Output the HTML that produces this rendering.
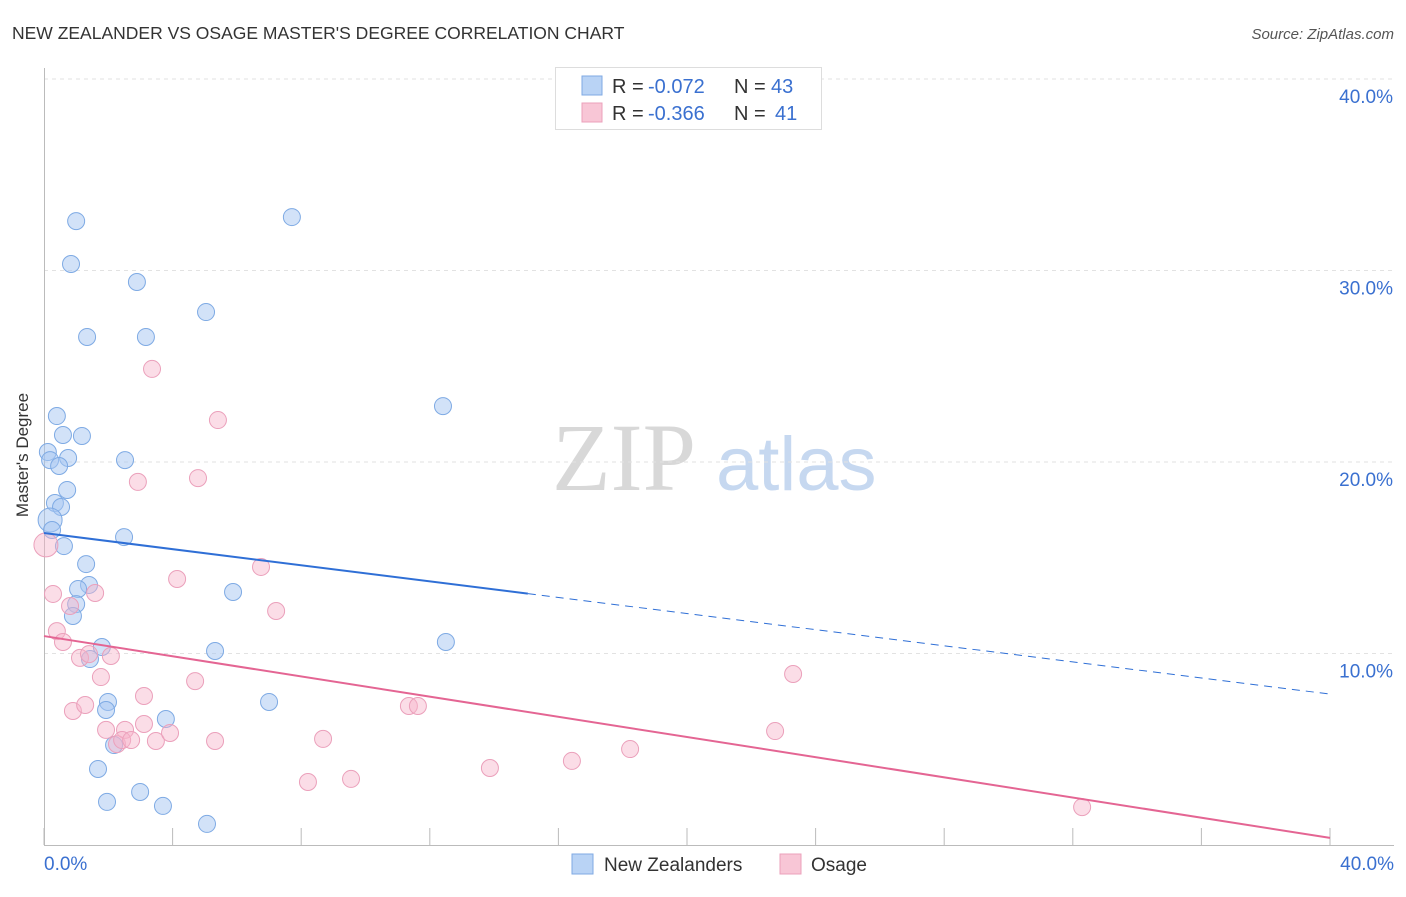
<!DOCTYPE html>
<html><head><meta charset="utf-8"><style>
body{margin:0;background:#fff;font-family:"Liberation Sans",sans-serif;}
svg text{font-family:"Liberation Sans",sans-serif;}
</style></head><body>
<svg id="c" width="1406" height="892" xmlns="http://www.w3.org/2000/svg">
<text x="12" y="39" font-size="17.5" fill="#333">NEW ZEALANDER VS OSAGE MASTER'S DEGREE CORRELATION CHART</text>
<text x="1394" y="39" font-size="15" fill="#555" text-anchor="end" font-style="italic">Source: ZipAtlas.com</text>
<g>
<text x="552" y="490" font-size="96" fill="#d8d8d8" style="font-family:'Liberation Serif',serif">ZIP</text>
<text x="716" y="490" font-size="76" fill="#c6d8f0">atlas</text>
</g>
<g id="grid"></g>
<g id="marks"></g>
<text x="28" y="455" font-size="17" fill="#333" text-anchor="middle" transform="rotate(-90 28 455)">Master's Degree</text>
<g>
<rect x="555.5" y="67.5" width="266" height="62" fill="#fff" stroke="#ddd"/>
<rect x="582" y="76" width="20" height="19" fill="#b9d3f5" stroke="#7faae3"/>
<rect x="582" y="103" width="20" height="19" fill="#f8c6d6" stroke="#eba0bb"/>
<text x="612" y="93" font-size="20" fill="#333">R =</text>
<text x="648" y="93" font-size="20" fill="#3a70d0">-0.072</text>
<text x="734" y="93" font-size="20" fill="#333">N =</text>
<text x="771" y="93" font-size="20" fill="#3a70d0">43</text>
<text x="612" y="120" font-size="20" fill="#333">R =</text>
<text x="648" y="120" font-size="20" fill="#3a70d0">-0.366</text>
<text x="734" y="120" font-size="20" fill="#333">N =</text>
<text x="775" y="120" font-size="20" fill="#3a70d0">41</text>
</g>
<g>
<rect x="572" y="854" width="21" height="20" fill="#b9d3f5" stroke="#7faae3"/>
<text x="604" y="871" font-size="19" fill="#333">New Zealanders</text>
<rect x="780" y="854" width="21" height="20" fill="#f8c6d6" stroke="#eba0bb"/>
<text x="811" y="871" font-size="19" fill="#333">Osage</text>
</g>
</svg>
<script>
const yTicks=[10,20,30,40];
const yTickLabels=["10.0%","20.0%","30.0%","40.0%"];
const xTicks=[0,4,8,12,16,20,24,28,32,36,40];
const blueX=[0.12,0.19,0.40,0.59,1.18,0.75,0.47,0.72,0.34,0.53,0.19,0.25,0.62,1.00,0.84,1.34,2.89,3.17,5.04,7.71,12.41,2.52,2.49,1.31,1.40,1.06,1.00,0.90,5.88,1.80,1.43,5.32,12.50,1.99,1.93,3.79,7.00,2.18,1.68,2.99,1.96,3.70,5.07];
const blueY=[20.52,20.10,22.40,21.41,21.36,20.21,19.79,18.54,17.86,17.65,16.97,16.45,15.61,32.58,30.34,26.53,29.40,26.53,27.83,32.79,22.92,20.10,16.08,14.67,13.58,13.37,12.58,11.96,13.21,10.34,9.71,10.13,10.60,7.47,7.05,6.58,7.47,5.22,3.97,2.77,2.25,2.04,1.10];
const pinkX=[0.06,0.28,0.40,0.59,0.81,1.59,1.12,1.40,2.08,1.77,0.90,1.28,3.11,4.70,4.14,3.36,5.41,4.79,2.92,6.75,7.22,1.93,2.52,2.27,2.43,2.71,3.11,3.48,3.92,5.32,8.68,8.21,9.55,11.35,11.63,13.87,16.42,18.23,22.74,23.30,32.29];
const pinkY=[15.67,13.11,11.17,10.60,12.48,13.16,9.77,9.97,9.87,8.77,7.00,7.31,7.78,8.56,13.89,24.86,22.19,19.16,18.96,14.52,12.22,6.01,6.01,5.27,5.48,5.48,6.32,5.43,5.85,5.43,5.54,3.29,3.45,7.26,7.26,4.02,4.39,5.01,5.95,8.93,1.98];
const blueBig=[10];
const pinkBig=[0];
const blueTrend=[16.29,7.88];
const blueSolidEnd=15.05;
const pinkTrend=[10.91,0.37];
const X=v=>44+v*32.15, Y=v=>845-v*19.15;
const NS="http://www.w3.org/2000/svg";
function mk(t,a,p){const e=document.createElementNS(NS,t);for(const k in a)e.setAttribute(k,a[k]);p.appendChild(e);return e;}
const g=document.getElementById('grid'), m=document.getElementById('marks');
yTicks.forEach((t,i)=>{
 const l=mk('line',{x1:44,x2:1394,y1:Y(t),y2:Y(t),stroke:'#e2e2e2','stroke-dasharray':'4,4'},g);
 
 
 const tx=mk('text',{x:1393,y:Y(t)+24,'font-size':19,fill:'#3a70d0','text-anchor':'end'},g);
 tx.textContent=yTickLabels[i];
 
 
});
const ax=mk('line',{x1:44,x2:1394,y1:845.5,y2:845.5,stroke:'#bbb'},g);


const ay=mk('line',{x1:44.5,x2:44.5,y1:68,y2:845,stroke:'#bbb'},g);


xTicks.forEach(t=>{
 const l=mk('line',{x1:X(t),x2:X(t),y1:828,y2:845,stroke:'#bbb'},g);
 
 
});
[[0,'0.0%',44,'start'],[40,'40.0%',1394,'end']].forEach(a=>{
 const tx=mk('text',{x:a[2],y:870,'font-size':19,fill:'#3a70d0','text-anchor':a[3]},g);
 tx.textContent=a[1];
 
 
});
function pts(xs,ys,big,fill,stroke,name){
 xs.forEach((v,i)=>{
  const r=big.includes(i)?12:8.5;
  const c=mk('circle',{cx:X(v),cy:Y(ys[i]),r:r,fill:fill,stroke:stroke,'stroke-width':1},m);
  
  
 });
}
pts(blueX,blueY,blueBig,'rgba(165,198,242,0.5)','#7eaae4','new-zealander-point');
pts(pinkX,pinkY,pinkBig,'rgba(246,180,202,0.45)','#eba0bb','osage-point');
const bt=v=>blueTrend[0]+(blueTrend[1]-blueTrend[0])*v/40;
const b1=mk('line',{x1:X(0),y1:Y(bt(0)),x2:X(blueSolidEnd),y2:Y(bt(blueSolidEnd)),stroke:'#2f6fd6','stroke-width':2},m);


const b2=mk('line',{x1:X(blueSolidEnd),y1:Y(bt(blueSolidEnd)),x2:X(40),y2:Y(bt(40)),stroke:'#2f6fd6','stroke-width':1,'stroke-dasharray':'8,6'},m);


const p1=mk('line',{x1:X(0),y1:Y(pinkTrend[0]),x2:X(40),y2:Y(pinkTrend[1]),stroke:'#e46593','stroke-width':2},m);


</script>
</body></html>
